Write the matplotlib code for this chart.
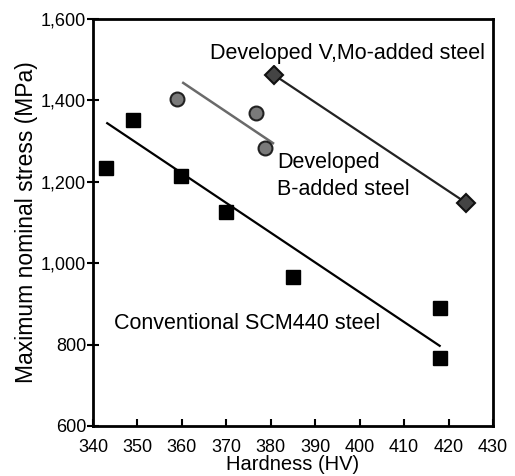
import matplotlib
matplotlib.use("Agg")
import matplotlib.pyplot as plt

plt.rcParams['font.family'] = ['Liberation Sans', 'DejaVu Sans']

# Conventional SCM440 steel
scm_hv = [342.9, 349.0, 359.8, 370.0, 385.0, 418.0, 418.0]
scm_stress = [1234, 1352, 1214, 1126, 966, 890, 767]
scm_trend_hv = [343.2, 418.0]
scm_trend_stress = [1344, 797]

# Developed B-added steel
b_hv = [358.9, 376.7, 378.7]
b_stress = [1403, 1369, 1283]
b_trend_hv = [360.3, 380.5]
b_trend_stress = [1443, 1295]

# Developed V,Mo-added steel
vmo_hv = [380.8, 424.0]
vmo_stress = [1462, 1148]

x_ticks = [340, 350, 360, 370, 380, 390, 400, 410, 420, 430]
y_ticks = [600, 800, 1000, 1200, 1400, 1600]
y_tick_labels = ['600', '800', '1,000', '1,200', '1,400', '1,600']

fig = plt.figure(figsize=(5.15, 4.76), dpi=100)
ax = fig.add_axes([93/515, 1 - 426/476, 400/515, 407/476])

ax.plot(scm_trend_hv, scm_trend_stress, color='black', lw=1.6, zorder=2)
ax.plot(b_trend_hv, b_trend_stress, color='#6a6a6a', lw=1.8, zorder=2)
ax.plot(vmo_hv, vmo_stress, color='#222222', lw=1.6, zorder=2)

ax.plot(scm_hv, scm_stress, ls='none', marker='s', ms=10, color='black', zorder=3)
ax.plot(b_hv, b_stress, ls='none', marker='o', ms=10, mfc='#7a7a7a', mec='#222222', mew=1.5, zorder=3)
ax.plot(vmo_hv, vmo_stress, ls='none', marker='D', ms=9.5, mfc='#444444', mec='#111111', mew=1.5, zorder=3)

label_kw = dict(fontsize=15.5, va='baseline', ha='left', zorder=4)
box = dict(facecolor='white', edgecolor='none', pad=1)
ax.text(366.3, 1502, 'Developed V,Mo-added steel', bbox=box, **label_kw)
ax.text(381.4, 1234, 'Developed', bbox=box, **label_kw)
ax.text(381.4, 1168, 'B-added steel', bbox=box, **label_kw)
ax.text(344.7, 838, 'Conventional SCM440 steel', bbox=box, **label_kw)

ax.set_xlim(340, 430)
ax.set_ylim(600, 1600)
ax.set_xticks(x_ticks)
ax.set_yticks(y_ticks)
ax.set_yticklabels(y_tick_labels)
ax.tick_params(axis='x', direction='in', length=5, width=1.5, labelsize=13, pad=9)
ax.tick_params(axis='y', direction='inout', length=8, width=1.5, labelsize=13, pad=1)
ax.set_xlabel('Hardness (HV)', fontsize=14.5, labelpad=0)
ax.set_ylabel('Maximum nominal stress (MPa)', fontsize=16.5, labelpad=2)
for s in ax.spines.values():
    s.set_linewidth(2)

fig.savefig('out.png', dpi=100)
